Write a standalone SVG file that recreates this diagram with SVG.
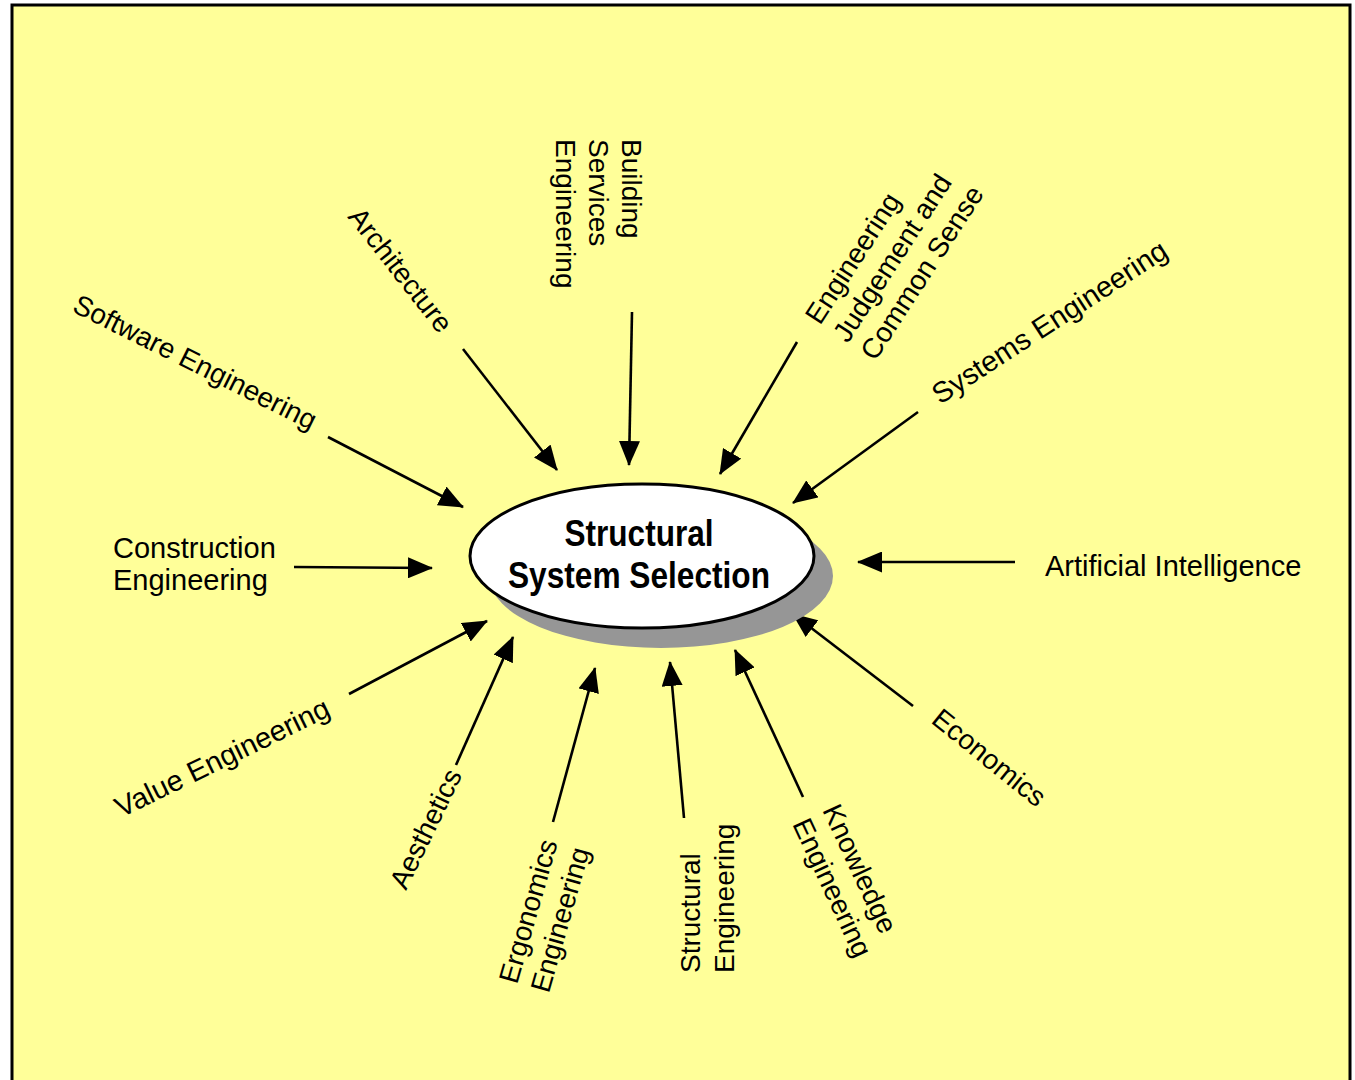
<svg xmlns="http://www.w3.org/2000/svg" width="1355" height="1080" viewBox="0 0 1355 1080">
<style>
.lbl{font-family:"Liberation Sans",Arial,sans-serif;font-size:28px;fill:#000}
.hl{font-size:29px}
.ttl{font-family:"Liberation Sans Narrow","Liberation Sans",Arial,sans-serif;font-size:36px;font-weight:bold;fill:#000}
.con{stroke:#000;stroke-width:2.6;fill:none;marker-end:url(#ah)}
</style>
<defs>
<marker id="ah" viewBox="0 0 25 21" refX="24" refY="10.5" markerWidth="25" markerHeight="21" markerUnits="userSpaceOnUse" orient="auto">
<path d="M0,0 L25,10.5 L0,21 z" fill="#000"/>
</marker>
</defs>
<rect x="0" y="0" width="1355" height="1080" fill="#fff"/>
<rect id="frame" x="12" y="5" width="1338" height="1090" fill="#FFFF99" stroke="#000" stroke-width="3"/>
<g id="connectors">
<line class="con" x1="294" y1="567" x2="432" y2="568"/>
<line class="con" x1="1015" y1="562" x2="858" y2="562"/>
<line class="con" x1="328" y1="437" x2="463" y2="507"/>
<line class="con" x1="463" y1="349" x2="557" y2="470"/>
<line class="con" x1="632" y1="312" x2="629" y2="465"/>
<line class="con" x1="797" y1="342" x2="720" y2="474"/>
<line class="con" x1="918" y1="412" x2="793" y2="503"/>
<line class="con" x1="913" y1="706" x2="793" y2="614"/>
<line class="con" x1="803" y1="797" x2="735" y2="650"/>
<line class="con" x1="684" y1="818" x2="670" y2="662"/>
<line class="con" x1="553" y1="822" x2="595" y2="668"/>
<line class="con" x1="456" y1="765" x2="513" y2="637"/>
<line class="con" x1="349" y1="694" x2="487" y2="621"/>
</g>
<g id="center">
<ellipse cx="661" cy="576" rx="172" ry="72" fill="#969696"/>
<ellipse cx="642" cy="556" rx="172" ry="72" fill="#fff" stroke="#000" stroke-width="3"/>
<text class="ttl" x="639" y="546" text-anchor="middle" textLength="149" lengthAdjust="spacingAndGlyphs">Structural</text>
<text class="ttl" x="639" y="588" text-anchor="middle" textLength="262" lengthAdjust="spacingAndGlyphs">System Selection</text>
</g>
<g id="construction"><text class="lbl hl" x="113" y="558">Construction</text><text class="lbl hl" x="113" y="590">Engineering</text></g>
<g id="ai"><text class="lbl hl" x="1045" y="576">Artificial Intelligence</text></g>
<g id="software"><text class="lbl" transform="translate(71,311) rotate(26.5)">Software Engineering</text></g>
<g id="architecture"><text class="lbl" transform="translate(347,217) rotate(52)">Architecture</text></g>
<g id="building" transform="translate(622,139) rotate(90)"><text class="lbl" x="0" y="0">Building</text><text class="lbl" x="0" y="33">Services</text><text class="lbl" x="0" y="66">Engineering</text></g>
<g id="judgement" transform="translate(820,326) rotate(-57)"><text class="lbl" x="0" y="0">Engineering</text><text class="lbl" x="0" y="33">Judgement and</text><text class="lbl" x="0" y="66">Common Sense</text></g>
<g id="systems"><text class="lbl hl" transform="translate(940,405) rotate(-33)">Systems Engineering</text></g>
<g id="economics"><text class="lbl" transform="translate(930,722) rotate(39)">Economics</text></g>
<g id="knowledge" transform="translate(822,810) rotate(65)"><text class="lbl" x="0" y="0">Knowledge</text><text class="lbl" x="0" y="33">Engineering</text></g>
<g id="structural" transform="translate(700,973) rotate(-90)"><text class="lbl" x="0" y="0">Structural</text><text class="lbl" x="0" y="34">Engineering</text></g>
<g id="ergonomics" transform="translate(517,985) rotate(-74)"><text class="lbl" x="0" y="0">Ergonomics</text><text class="lbl" x="0" y="33">Engineering</text></g>
<g id="aesthetics"><text class="lbl" transform="translate(406,891) rotate(-64)">Aesthetics</text></g>
<g id="value"><text class="lbl hl" transform="translate(121,818) rotate(-26)">Value Engineering</text></g>
</svg>
